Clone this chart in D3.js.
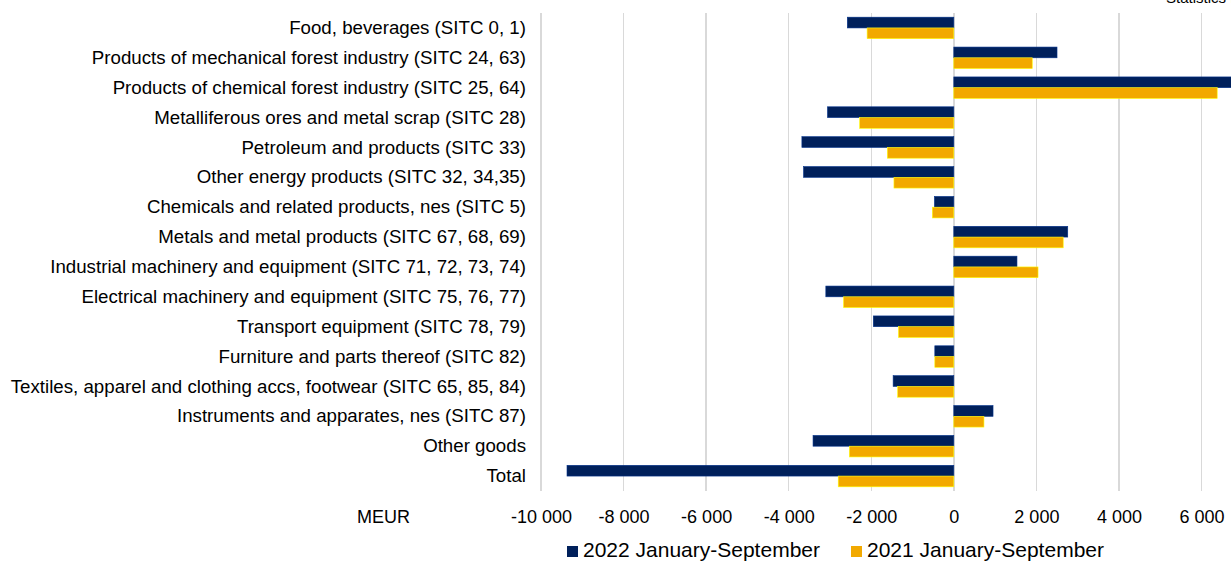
<!DOCTYPE html>
<html>
<head>
<meta charset="UTF-8"/>
<script src="https://d3js.org/d3.v7.min.js"></script>
<style>
body { margin: 0; background: #fff; }
text { font-family: "Liberation Sans", Arial, sans-serif; fill: #000; }
.grid line { stroke: #d9d9d9; stroke-width: 1.5; shape-rendering: crispEdges; }
</style>
</head>
<body>
<svg id="chart" width="1231" height="562"></svg>
<script>
'use strict';

var categories = [
	'Food, beverages (SITC 0, 1)',
	'Products of mechanical forest industry (SITC 24, 63)',
	'Products of chemical forest industry (SITC 25, 64)',
	'Metalliferous ores and metal scrap (SITC 28)',
	'Petroleum and products (SITC 33)',
	'Other energy products (SITC 32, 34,35)',
	'Chemicals and related products, nes (SITC 5)',
	'Metals and metal products (SITC 67, 68, 69)',
	'Industrial machinery and equipment (SITC 71, 72, 73, 74)',
	'Electrical machinery and equipment (SITC 75, 76, 77)',
	'Transport equipment (SITC 78, 79)',
	'Furniture and parts thereof (SITC 82)',
	'Textiles, apparel and clothing accs, footwear (SITC 65, 85, 84)',
	'Instruments and apparates, nes (SITC 87)',
	'Other goods',
	'Total'
];

var y2022 = [-2580, 2500, 7200, -3060, -3680, -3640, -470, 2760, 1530, -3100, -1950, -460, -1470, 950, -3410, -9370];
var y2021 = [-2100, 1900, 6380, -2280, -1610, -1450, -520, 2650, 2040, -2670, -1340, -460, -1360, 730, -2530, -2800];

var seriesNames = ['2022 January-September', '2021 January-September'];
var seriesColors = ['#00205b', '#f2a900'];
var tickValues = [-10000, -8000, -6000, -4000, -2000, 0, 2000, 4000, 6000];

var svg = d3.select('#chart');

var x = d3.scaleLinear().domain([-10000, 6000]).range([541, 1201.5]);
var y = d3.scaleBand().domain(categories).range([13, 491]).paddingInner(0.28).paddingOuter(0.14);
var ys = d3.scaleBand().domain([0, 1]).range([0, y.bandwidth()]);

var fmt = function(d){ return d3.format(',')(d).replace(/,/g, ' ').replace('−', '-'); };

// gridlines
svg.append('g').attr('class', 'grid')
	.selectAll('line')
	.data(tickValues)
	.enter()
	.append('line')
	.attr('x1', function(d){ return x(d); })
	.attr('x2', function(d){ return x(d); })
	.attr('y1', 13)
	.attr('y2', 491);

// bars
var rows = categories.map(function(c, i){ return {cat: c, vals: [y2022[i], y2021[i]]}; });

var groups = svg.selectAll('.row').data(rows).enter()
	.append('g')
	.attr('class', 'row')
	.attr('transform', function(d){ return 'translate(0,' + y(d.cat) + ')'; });

groups.selectAll('rect')
	.data(function(d){ return d.vals; })
	.enter()
	.append('rect')
	.attr('x', function(d){ return x(Math.min(0, d)); })
	.attr('width', function(d){ return Math.abs(x(d) - x(0)); })
	.attr('y', function(d, i){ return ys(i); })
	.attr('height', ys.bandwidth())
	.attr('fill', function(d, i){ return seriesColors[i]; })
	.attr('stroke', function(d, i){ return d3.color(seriesColors[i]).brighter(1.2); })
	.attr('stroke-width', 0.6);

// category labels
svg.append('g')
	.selectAll('text')
	.data(categories)
	.enter()
	.append('text')
	.attr('x', 526)
	.attr('y', function(d){ return y(d) + y.bandwidth() / 2; })
	.attr('dy', '0.33em')
	.attr('text-anchor', 'end')
	.style('font-size', '18.7px')
	.text(function(d){ return d; });

// x axis labels
var xAxis = d3.axisBottom(x).tickValues(tickValues).tickFormat(fmt).tickSize(0).tickPadding(0);
var ax = svg.append('g').attr('transform', 'translate(0,510)').call(xAxis);
ax.select('.domain').remove();
ax.selectAll('text').style('font-size', '18px').style('font-family', '"Liberation Sans", Arial, sans-serif').attr('fill', '#000');

svg.append('text')
	.attr('x', 357)
	.attr('y', 523)
	.style('font-size', '18px')
	.text('MEUR');

// legend
var legendX = [567, 851];
var lg = svg.selectAll('.legend').data(seriesNames).enter()
	.append('g')
	.attr('class', 'legend')
	.attr('transform', function(d, i){ return 'translate(' + legendX[i] + ',0)'; });

lg.append('rect')
	.attr('x', 0).attr('y', 546)
	.attr('width', 11).attr('height', 11)
	.attr('fill', function(d, i){ return seriesColors[i]; });

lg.append('text')
	.attr('x', 16)
	.attr('y', 557)
	.style('font-size', '21px')
	.text(function(d){ return d; });

// source text, cut at top edge
svg.append('text')
	.attr('x', 1166)
	.attr('y', 3)
	.style('font-size', '15px')
	.text('Statistics Finland');
</script>
</body>
</html>
